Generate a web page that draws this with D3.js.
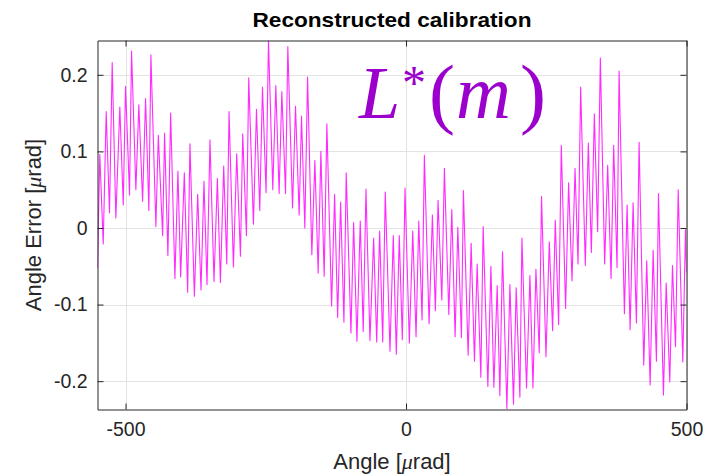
<!DOCTYPE html>
<html>
<head>
<meta charset="utf-8">
<script src="https://cdn.jsdelivr.net/npm/d3@7"></script>
<style>
  html, body { margin: 0; padding: 0; background: #fff; }
  svg { display: block; }
</style>
</head>
<body>
<svg id="chart" width="710" height="474"></svg>
<script>
const angleX = [-550, -545.9, -539.8, -534.5, -528.6, -523.8, -517.3, -510.2, -504.1, -500,
  -492.9, -489.3, -481.6, -476.3, -469.6, -464.3, -458.4, -454.8, -445.9, -441.6,
  -433.9, -430.4, -424.5, -419.6, -412, -406.6, -401.8, -395.2, -389.3, -385.2,
  -377.3, -371.4, -365.5, -360.2, -354.8, -349.5, -342.3, -336.3, -330.9, -325,
  -319.6, -315.5, -307.7, -301.8, -295.2, -291.1, -284.5, -280.4, -272, -266.6,
  -260.7, -255.9, -249.5, -245.2, -237.5, -232.1, -226.2, -221.4, -214.8, -210.7,
  -202.3, -197, -190.5, -186.3, -180.4, -175.5, -167.9, -162.5, -156.6, -151.8,
  -145.9, -141.1, -132.7, -127.3, -121.9, -116.6, -110.7, -106.6, -98.2, -93.4,
  -87.5, -81.6, -76.3, -71.4, -64.3, -57.7, -52.3, -47, -41.6, -37,
  -28.6, -22.7, -17.3, -12, -6.6, -1.8, 5.9, 12, 17.9, 22.7,
  28.6, 32.7, 41.1, 47, 52.3, 57.1, 63.8, 68.4, 76.3, 81.6,
  87.5, 92.3, 98.8, 102.3, 110.7, 116.1, 122, 126.8, 133.4, 137.5,
  145.9, 151.3, 156.6, 162.5, 167.3, 172, 179.8, 185.2, 191.6, 196.4,
  203, 206.6, 214.8, 220.9, 226.3, 231.6, 237.5, 241.6, 249.5, 255.4,
  261.3, 266.1, 272, 276.8, 284.5, 289.8, 295.9, 301.3, 306.6, 311.3,
  319.6, 325, 330.4, 335.7, 341.6, 346.4, 354.1, 359.5, 365.5, 370.2,
  376.2, 379.8, 389.3, 394.1, 399.5, 404.8, 410.7, 415.5, 423.8, 429.1,
  435.2, 440.5, 446.4, 450, 458.9, 463.8, 470.2, 475, 480.4, 485.2,
  493.4, 498.2, 500];

const angleErr = [-0.052, 0.096, -0.021, 0.152, 0.020, 0.216, 0.013, 0.158, 0.030, 0.185,
  0.043, 0.231, 0.050, 0.161, 0.035, 0.169, 0.023, 0.226, 0.002, 0.121,
  -0.010, 0.124, -0.036, 0.150, -0.066, 0.074, -0.064, 0.072, -0.084, 0.110,
  -0.089, 0.044, -0.081, 0.061, -0.074, 0.115, -0.070, 0.065, -0.071, 0.081,
  -0.047, 0.152, -0.051, 0.097, -0.037, 0.123, -0.010, 0.196, 0.005, 0.155,
  0.023, 0.184, 0.046, 0.245, 0.050, 0.186, 0.045, 0.178, 0.045, 0.237,
  0.026, 0.159, 0.017, 0.146, 0.000, 0.197, -0.035, 0.088, -0.059, 0.100,
  -0.063, 0.136, -0.102, 0.044, -0.117, 0.034, -0.123, 0.072, -0.137, 0.007,
  -0.148, 0.009, -0.135, 0.051, -0.147, -0.013, -0.149, -0.004, -0.149, 0.047,
  -0.161, -0.010, -0.165, -0.010, -0.146, 0.052, -0.150, -0.004, -0.142, 0.009,
  -0.120, 0.095, -0.125, 0.017, -0.108, 0.036, -0.094, 0.078, -0.113, 0.024,
  -0.142, 0.001, -0.143, 0.049, -0.166, -0.020, -0.174, -0.047, -0.195, 0.002,
  -0.207, -0.050, -0.208, -0.075, -0.219, -0.031, -0.236, -0.074, -0.230, -0.078,
  -0.221, -0.013, -0.209, -0.062, -0.209, -0.054, -0.163, 0.041, -0.168, -0.018,
  -0.134, 0.010, -0.126, 0.108, -0.105, 0.059, -0.069, 0.078, -0.047, 0.184,
  -0.049, 0.111, -0.032, 0.149, -0.005, 0.222, -0.047, 0.082, -0.066, 0.108,
  -0.052, 0.205, -0.112, 0.030, -0.133, 0.033, -0.124, 0.112, -0.179, -0.043,
  -0.205, -0.029, -0.174, 0.045, -0.218, -0.072, -0.201, -0.049, -0.155, 0.050,
  -0.175, -0.002, -0.058];

const xTicks = [-500, 0, 500];
const yTicks = [-0.2, -0.1, 0, 0.1, 0.2];
const xTickLabels = ["-500", "0", "500"];
const yTickLabels = ["-0.2", "-0.1", "0", "0.1", "0.2"];
const xDomain = [-550, 500];
const yDomain = [-0.237, 0.2448];

const svg = d3.select("#chart");
const L = 97.5, R = 686.5, T = 40.5, B = 409.5;
const x = d3.scaleLinear().domain(xDomain).range([L, R]);
const y = d3.scaleLinear().domain(yDomain).range([B, T]);

const font = "'Liberation Sans', Arial, Helvetica, sans-serif";
const axisCol = "#262626";

// grid
const grid = svg.append("g");
grid.selectAll("line.gx").data(xTicks).enter().append("line")
  .attr("x1", d => Math.round(x(d)) + 0.5).attr("x2", d => Math.round(x(d)) + 0.5)
  .attr("y1", T).attr("y2", B).attr("stroke", "#e3e3e3").attr("stroke-width", 1);
grid.selectAll("line.gy").data(yTicks).enter().append("line")
  .attr("y1", d => Math.round(y(d)) + 0.5).attr("y2", d => Math.round(y(d)) + 0.5)
  .attr("x1", L).attr("x2", R).attr("stroke", "#e3e3e3").attr("stroke-width", 1);

// clip
svg.append("clipPath").attr("id", "clip").append("rect")
  .attr("x", L).attr("y", T).attr("width", R - L).attr("height", B - T);

const pts = d3.zip(angleX, angleErr);
svg.append("path")
  .datum(pts)
  .attr("clip-path", "url(#clip)")
  .attr("fill", "none")
  .attr("stroke", "#ff2bff")
  .attr("stroke-width", 1.1)
  .attr("stroke-linejoin", "round")
  .attr("d", d3.line().x(d => x(d[0])).y(d => y(d[1])));

// axes with inward ticks on all sides
const tickLen = 6;
const axB = d3.axisBottom(x).tickValues(xTicks).tickFormat((d, i) => xTickLabels[i]).tickSizeInner(-tickLen).tickSizeOuter(0).tickPadding(13);
const axT = d3.axisTop(x).tickValues(xTicks).tickFormat("").tickSizeInner(-tickLen).tickSizeOuter(0);
const axLft = d3.axisLeft(y).tickValues(yTicks).tickFormat((d, i) => yTickLabels[i]).tickSizeInner(-tickLen).tickSizeOuter(0).tickPadding(10);
const axRgt = d3.axisRight(y).tickValues(yTicks).tickFormat("").tickSizeInner(-tickLen).tickSizeOuter(0);

function style(g) {
  g.selectAll("path.domain").attr("stroke", axisCol).attr("stroke-width", 1);
  g.selectAll(".tick line").attr("stroke", axisCol).attr("stroke-width", 1);
  g.selectAll(".tick text").attr("fill", axisCol).style("font-family", font).style("font-size", "19.5px");
}
svg.append("g").attr("transform", `translate(0,${B})`).call(axB).call(style);
svg.append("g").attr("transform", `translate(0,${T})`).call(axT).call(style);
svg.append("g").attr("transform", `translate(${L},0)`).call(axLft).call(style);
svg.append("g").attr("transform", `translate(${R},0)`).call(axRgt).call(style);

// title
svg.append("text")
  .attr("x", (L + R) / 2).attr("y", 27)
  .attr("text-anchor", "middle")
  .style("font-family", font).style("font-weight", "bold").style("font-size", "21px")
  .attr("textLength", 279).attr("lengthAdjust", "spacingAndGlyphs")
  .attr("fill", "#000")
  .text("Reconstructed calibration");

// x label
const xl = svg.append("text")
  .attr("x", (L + R) / 2).attr("y", 469)
  .attr("text-anchor", "middle")
  .style("font-family", font).style("font-size", "22px").attr("fill", axisCol);
xl.append("tspan").text("Angle [");
xl.append("tspan").style("font-family", "'Liberation Serif', serif").style("font-style", "italic").text("μ");
xl.append("tspan").text("rad]");

// y label
const yl = svg.append("text")
  .attr("transform", `translate(41,${(T + B) / 2}) rotate(-90)`)
  .attr("text-anchor", "middle")
  .style("font-family", font).style("font-size", "22px").attr("fill", axisCol);
yl.append("tspan").text("Angle Error [");
yl.append("tspan").style("font-family", "'Liberation Serif', serif").style("font-style", "italic").text("μ");
yl.append("tspan").text("rad]");

// L*(m) annotation as a single text element
const annCol = "#9b00cc";
const serif = "'Liberation Serif', 'DejaVu Serif', serif";
const ann = svg.append("text").attr("fill", annCol).style("font-family", serif).attr("y", 118);
ann.append("tspan").attr("x", 359).attr("y", 118).style("font-size", "74px").style("font-style", "italic").text("L");
ann.append("tspan").attr("x", 402).attr("y", 99).style("font-size", "48px").text("*");
ann.append("tspan").attr("x", 429).attr("y", 119).style("font-size", "78px").text("(");
ann.append("tspan").attr("x", 456).attr("y", 118).style("font-size", "76px").style("font-style", "italic").text("m");
ann.append("tspan").attr("x", 520).attr("y", 119).style("font-size", "78px").text(")");
</script>
</body>
</html>
